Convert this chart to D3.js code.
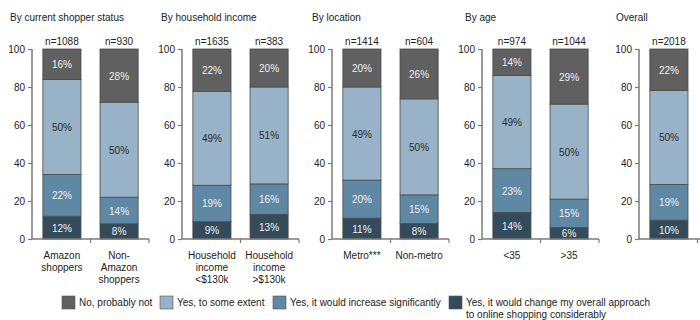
<!DOCTYPE html>
<html><head><meta charset="utf-8">
<script src="https://cdn.jsdelivr.net/npm/d3@7"></script>
<style>
html,body{margin:0;padding:0;background:#fff;}
svg{display:block;font-family:"Liberation Sans",Arial,sans-serif;}
</style></head>
<body><svg id="c" width="700" height="320"></svg>
<script>
const panelTitles = ["By current shopper status","By household income","By location","By age","Overall"];
const categories = ["Amazon\nshoppers","Non-\nAmazon\nshoppers","Household\nincome\n<$130k","Household\nincome\n>$130k","Metro***","Non-metro","<35",">35","Overall"];
const panelOf = [0,0,1,1,2,2,3,3,4];
const sampleSizes = ["n=1088","n=930","n=1635","n=383","n=1414","n=604","n=974","n=1044","n=2018"];
const seriesNames = ["Yes, it would change my overall approach\nto online shopping considerably","Yes, it would increase significantly","Yes, to some extent","No, probably not"];
const changeConsiderably = [12,8,9,13,11,8,14,6,10];
const increaseSignificantly = [22,14,19,16,20,15,23,15,19];
const someExtent = [50,50,49,51,49,50,49,50,50];
const probablyNot = [16,28,22,20,20,26,14,29,22];
const yTicks = [0,20,40,60,80,100];
const legendOrder = [3,2,1,0];

const colors = ["#344b5c","#5f88a5","#98b2c7","#606060"];
const labelColors = ["#f0f0f0","#f0f0f0","#2a2a2a","#f0f0f0"];
const FONT = "Liberation Sans, Arial, sans-serif";
const FS = 10;
const svg = d3.select("#c");

const rows = categories.map((c,i)=>({cat:c, panel:panelOf[i], n:sampleSizes[i],
  s0:changeConsiderably[i], s1:increaseSignificantly[i], s2:someExtent[i], s3:probablyNot[i]}));
const keys = ["s0","s1","s2","s3"];
const stacked = d3.stack().keys(keys).offset(d3.stackOffsetExpand)(rows);

const y = d3.scaleLinear().domain([0,1]).range([239,49]);
const axisX = [32,182,332,482,639];
const titleX = [10,161,312,465,616];
const axisColor = "#7a7a7a";

panelTitles.forEach((t,p)=>{
  const g = svg.append("g").attr("transform",`translate(${axisX[p]},0)`);
  const cats = rows.filter(r=>r.panel===p).map(r=>r.cat);
  const domain = cats.length===1 ? [cats[0],"_pad"] : cats;
  const x = d3.scaleBand().domain(domain).range([0,117]).paddingInner(0.333).paddingOuter(0.19);

  svg.append("text").attr("x",titleX[p]).attr("y",21).attr("font-size",FS).attr("fill","#222").text(t);

  stacked.forEach((layer,k)=>{
    layer.forEach((d,i)=>{
      const r = rows[i];
      if(r.panel!==p) return;
      g.append("rect").attr("x",x(r.cat)).attr("width",x.bandwidth())
        .attr("y",y(d[1])).attr("height",y(d[0])-y(d[1]))
        .attr("fill",colors[k]).attr("stroke","#4a4a4a").attr("stroke-width",0.8);
      g.append("text").attr("x",x(r.cat)+x.bandwidth()/2).attr("y",y((d[0]+d[1])/2)+4)
        .attr("text-anchor","middle").attr("font-size",FS).attr("fill",labelColors[k])
        .text(r[keys[k]]+"%");
    });
  });

  rows.filter(r=>r.panel===p).forEach(r=>{
    g.append("text").attr("x",x(r.cat)+x.bandwidth()/2).attr("y",45)
      .attr("text-anchor","middle").attr("font-size",FS).attr("fill","#222").text(r.n);
    const lines = r.cat.split("\n");
    if(p<4) lines.forEach((ln,li)=>{
      g.append("text").attr("x",x(r.cat)+x.bandwidth()/2).attr("y",259+li*12)
        .attr("text-anchor","middle").attr("font-size",FS).attr("fill","#222").text(ln);
    });
  });

  const ya = g.append("g").call(d3.axisLeft(y).tickValues(yTicks.map(v=>v/100)).tickFormat(v=>Math.round(v*100)).tickSize(4).tickPadding(3));
  ya.attr("font-family",FONT);
  ya.select(".domain").attr("stroke",axisColor).attr("stroke-width",1.5).attr("d","M0,49V239");
  ya.selectAll(".tick line").attr("stroke",axisColor).attr("stroke-width",1.2);
  ya.selectAll(".tick text").attr("font-size",FS).attr("fill","#222");

  const xa = g.append("g").attr("transform","translate(0,239)");
  xa.append("line").attr("x1",0).attr("x2",117).attr("stroke",axisColor).attr("stroke-width",1.5);
  [58.5,117].forEach(tx=>xa.append("line").attr("x1",tx).attr("x2",tx).attr("y1",0).attr("y2",4).attr("stroke",axisColor).attr("stroke-width",1.2));
});

const legX = [62,160,273,449];
legendOrder.forEach((k,i)=>{
  const lg = svg.append("g").attr("transform",`translate(${legX[i]},296)`);
  lg.append("rect").attr("width",13).attr("height",13).attr("fill",colors[k]).attr("stroke","#555").attr("stroke-width",0.6);
  seriesNames[k].split("\n").forEach((ln,li)=>{
    lg.append("text").attr("x",17).attr("y",10+li*12).attr("font-size",FS).attr("fill","#222").text(ln);
  });
});
</script></body></html>
